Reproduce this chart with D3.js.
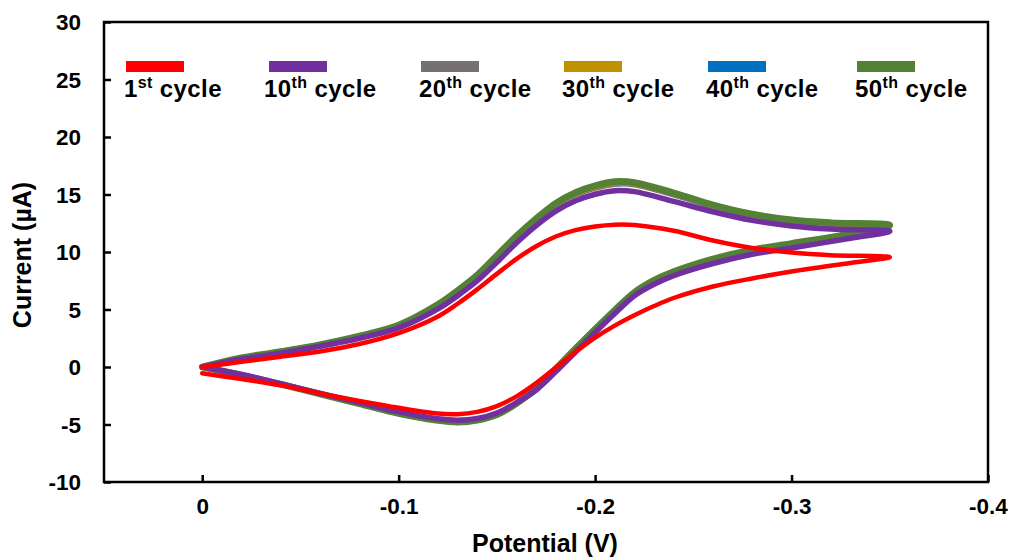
<!DOCTYPE html>
<html>
<head>
<meta charset="utf-8">
<script src="https://cdn.jsdelivr.net/npm/d3@7"></script>
<style>
	body { margin: 0; background: #fff; }
	text { font-family: "Liberation Sans", Arial, sans-serif; font-weight: bold; fill: #000; }
</style>
</head>
<body>
<div id="chart"></div>
<script>

// potential (V): forward sweep 0 -> -0.35, then back to 0
const potential = [
	0, -0.02, -0.04, -0.06, -0.08, -0.10, -0.12, -0.13, -0.14, -0.15, -0.16, -0.17, -0.18, -0.19, -0.20, -0.21, -0.22, -0.24, -0.26, -0.28, -0.30, -0.32, -0.35,
	-0.33, -0.30, -0.28, -0.26, -0.24, -0.23, -0.22, -0.21, -0.20, -0.19, -0.18, -0.17, -0.16, -0.15, -0.14, -0.13, -0.12, -0.10, -0.08, -0.06, -0.04, -0.02, 0
]

// current (uA) for each cycle, same order as potential
const cycle1 = [
	0, 0.45, 0.9, 1.35, 2.0, 2.95, 4.4, 5.5, 6.75, 8.1, 9.4, 10.5, 11.35, 11.9, 12.22, 12.38, 12.35, 11.85, 11.0, 10.35, 9.95, 9.72, 9.55,
	9.05, 8.3, 7.7, 7.0, 6.0, 5.3, 4.5, 3.6, 2.55, 1.3, -0.05, -1.4, -2.55, -3.4, -3.9, -4.1, -4.05, -3.55, -2.95, -2.3, -1.6, -1.05, -0.55
]
const cycle10 = [
	0, 0.7, 1.2, 1.8, 2.5, 3.4, 5.05, 6.2, 7.5, 9.1, 10.8, 12.3, 13.55, 14.45, 15.02, 15.33, 15.25, 14.4, 13.5, 12.75, 12.27, 12.0, 11.8,
	11.2, 10.35, 9.8, 9.0, 7.95, 7.2, 6.2, 4.65, 3.0, 1.3, -0.4, -2.0, -3.1, -4.0, -4.48, -4.62, -4.5, -3.9, -3.1, -2.3, -1.45, -0.65, 0
]
const cycle20 = [
	0, 0.77, 1.3, 1.9, 2.64, 3.57, 5.33, 6.5, 7.82, 9.5, 11.2, 12.72, 14.05, 14.98, 15.56, 15.9, 15.85, 14.98, 13.95, 13.15, 12.68, 12.42, 12.25,
	11.52, 10.66, 10.1, 9.32, 8.22, 7.47, 6.42, 4.87, 3.22, 1.52, -0.22, -1.93, -3.15, -4.12, -4.58, -4.74, -4.6, -4.0, -3.15, -2.32, -1.48, -0.68, 0
]
const cycle30 = [
	0, 0.78, 1.32, 1.92, 2.67, 3.6, 5.38, 6.56, 7.9, 9.58, 11.28, 12.8, 14.13, 15.06, 15.64, 16.0, 15.93, 15.05, 14.02, 13.22, 12.74, 12.48, 12.3,
	11.56, 10.7, 10.15, 9.36, 8.26, 7.51, 6.46, 4.91, 3.26, 1.56, -0.18, -1.9, -3.17, -4.14, -4.6, -4.77, -4.63, -4.03, -3.18, -2.33, -1.49, -0.69, 0
]
const cycle40 = [
	0, 0.79, 1.34, 1.94, 2.69, 3.63, 5.42, 6.61, 7.96, 9.65, 11.35, 12.87, 14.2, 15.13, 15.72, 16.08, 16.0, 15.1, 14.07, 13.27, 12.78, 12.52, 12.33,
	11.58, 10.73, 10.18, 9.38, 8.28, 7.53, 6.48, 4.93, 3.28, 1.58, -0.16, -1.88, -3.17, -4.15, -4.62, -4.79, -4.64, -4.04, -3.19, -2.34, -1.5, -0.7, 0
]
const cycle50 = [
	0, 0.8, 1.35, 1.95, 2.7, 3.65, 5.45, 6.65, 8.0, 9.7, 11.4, 12.92, 14.25, 15.18, 15.77, 16.13, 16.05, 15.15, 14.1, 13.3, 12.8, 12.55, 12.35,
	11.6, 10.75, 10.2, 9.4, 8.3, 7.55, 6.5, 4.95, 3.3, 1.6, -0.15, -1.87, -3.17, -4.16, -4.63, -4.8, -4.65, -4.05, -3.2, -2.35, -1.5, -0.7, 0
]

const cycleNum = ['1', '10', '20', '30', '40', '50']
const cycleSup = ['st', 'th', 'th', 'th', 'th', 'th']
const cycleColor = ['#ff0000', '#7030a0', '#767171', '#bf9000', '#0070c0', '#548235']
const cycleData = [cycle1, cycle10, cycle20, cycle30, cycle40, cycle50]

const xTicks = [0, -0.1, -0.2, -0.3, -0.4]
const yTicks = [-10, -5, 0, 5, 10, 15, 20, 25, 30]

let width = 1011
let height = 558
let margin = {left:104, right:23, top:22, bottom:76}

let x = d3.scaleLinear().domain([0.05, -0.4]).range([margin.left, width-margin.right])
let y = d3.scaleLinear().domain([-10, 30]).range([height-margin.bottom, margin.top])

let svg = d3.select('#chart').append('svg')
	.attr('width', width).attr('height', height)
	.attr('viewBox', `0 0 ${width} ${height}`)

// curves, drawn so that 1st and 10th sit on top like in the original
let line = d3.line()
	.x((d, i) => x(potential[i]))
	.y(d => y(d))
	.curve(d3.curveCatmullRom.alpha(0.5))

let order = [2, 3, 4, 5, 1, 0]
let widths = [4.5, 5.5, 5.5, 5.5, 5.5, 6.5]
order.forEach(k => {
	svg.append('path')
		.attr('d', line(cycleData[k]))
		.attr('fill', 'none')
		.attr('stroke', cycleColor[k])
		.attr('stroke-width', widths[k])
		.attr('stroke-linejoin', 'round')
		.attr('stroke-linecap', 'round')
})

// axes (ticks inside), plain hyphen for minus like the original
let fmt = d => d === 0 ? '0' : String(d).replace('\u2212', '-')
let xAxis = d3.axisBottom(x).tickValues(xTicks).tickSize(-7).tickPadding(16).tickFormat(fmt)
let yAxis = d3.axisLeft(y).tickValues(yTicks).tickSize(-7).tickPadding(23).tickFormat(fmt)

let gx = svg.append('g').attr('transform', `translate(0,${height-margin.bottom})`).call(xAxis)
let gy = svg.append('g').attr('transform', `translate(${margin.left},0)`).call(yAxis)

;[gx, gy].forEach(g => {
	g.select('.domain').remove()
	g.selectAll('.tick line').attr('stroke', '#000').attr('stroke-width', 2.5)
	g.selectAll('.tick text').style('font-size', '22.5px').attr('font-family', null)
})
gx.selectAll('.tick text').attr('dy', '0.71em')
gy.selectAll('.tick text').attr('dy', '0.35em')

// frame
svg.append('rect')
	.attr('x', x(0.05)).attr('y', y(30))
	.attr('width', x(-0.4) - x(0.05)).attr('height', y(-10) - y(30))
	.attr('fill', 'none').attr('stroke', '#000').attr('stroke-width', 2.5)

// axis titles
svg.append('text')
	.attr('x', 545).attr('y', 552)
	.attr('text-anchor', 'middle')
	.style('font-size', '25px')
	.text('Potential (V)')

svg.append('text')
	.attr('transform', 'translate(31,255) rotate(-90)')
	.attr('text-anchor', 'middle')
	.style('font-size', '25px')
	.text('Current (µA)')

// legend
let legendX = [126, 269, 421, 564, 708, 857]
let legend = svg.append('g')
cycleNum.forEach((n, i) => {
	let g = legend.append('g').attr('transform', `translate(${legendX[i]},0)`)
	g.append('rect')
		.attr('x', 0).attr('y', 61)
		.attr('width', 58).attr('height', 11)
		.attr('fill', cycleColor[i])
	let t = g.append('text').attr('x', i == 1 ? -5 : -2).attr('y', 97)
		.style('font-size', '24px').style('letter-spacing', '0.4px')
	t.append('tspan').text(n)
	t.append('tspan').attr('dy', -9).style('font-size', '16px').text(cycleSup[i])
	t.append('tspan').attr('dy', 9).text(' cycle')
})

</script>
</body>
</html>
